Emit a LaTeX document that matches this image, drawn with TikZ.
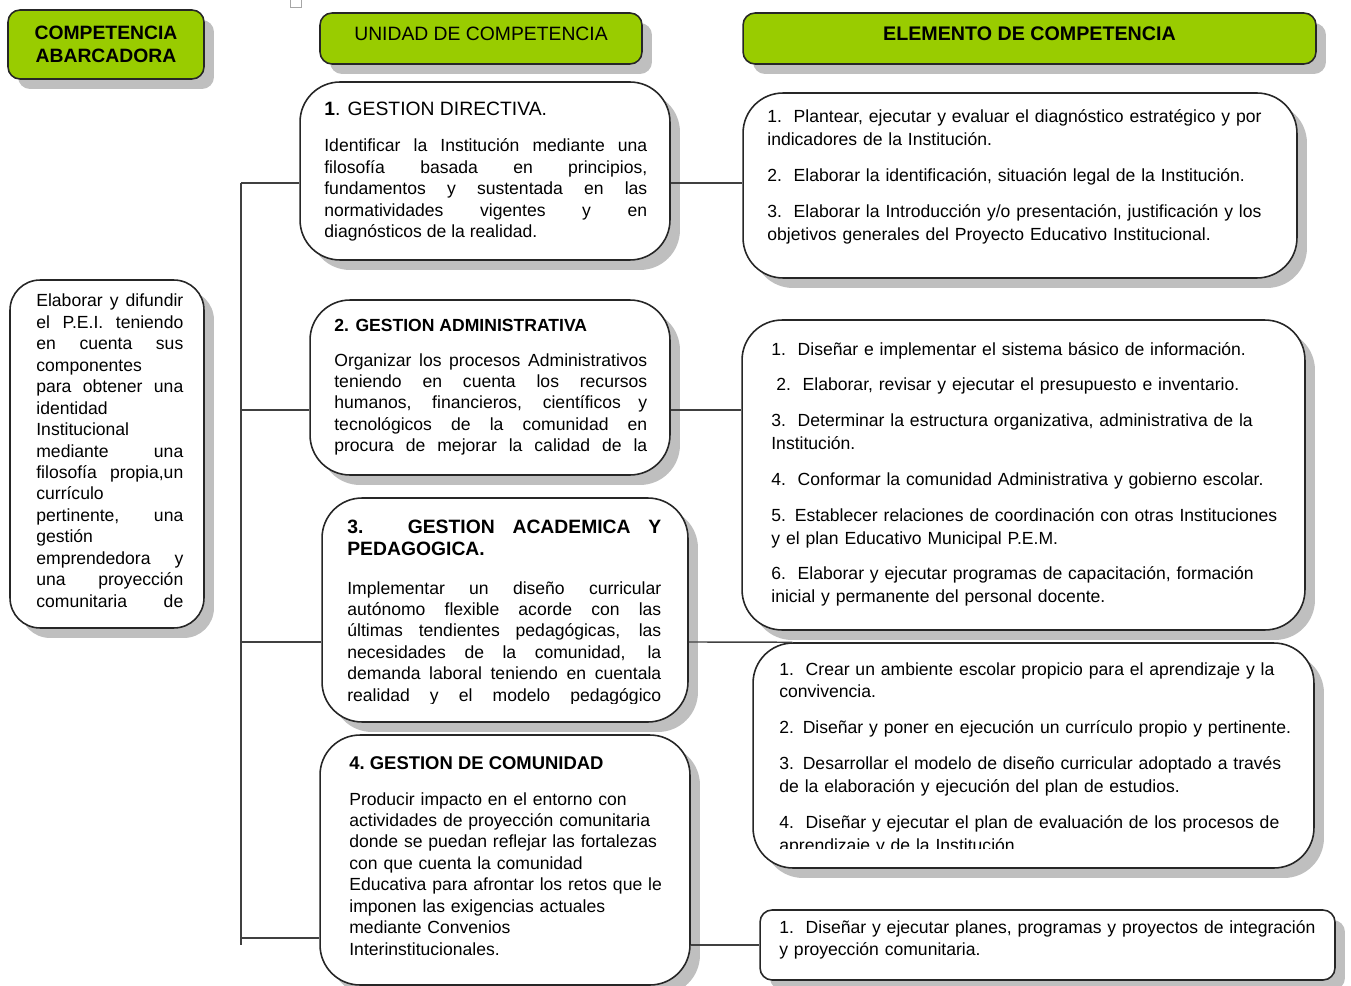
\documentclass[tikz,border=0pt]{standalone}
\usepackage{fontspec}
\setmainfont{Liberation Sans}
\usetikzlibrary{shadows}
\usetikzlibrary{calc}

\definecolor{hdrgreen}{HTML}{99CC00}
\definecolor{linegray}{HTML}{262626}
\tolerance=10000
\hbadness=10000
\hfuzz=20pt
\hyphenpenalty=10000
\exhyphenpenalty=10000

\tikzset{
  boxshadow/.style={drop shadow={shadow xshift=0.2cm, shadow yshift=-0.2cm, fill=black!25, opacity=1}},
  header/.style={draw=linegray, line width=0.9pt, fill=hdrgreen, rounded corners=0.24cm, boxshadow,
    inner sep=0pt, align=center, font=\fontsize{11}{13}\selectfont},
  card/.style={draw=linegray, line width=0.9pt, fill=white, rounded corners=0.8cm, boxshadow, inner sep=0pt},
  txt/.style={anchor=base west, inner sep=0pt, font=\fontsize{10}{12.2}\selectfont},
  just/.style={txt, align=justify},
  items/.style={txt, align=left, text width=10.9cm, font=\fontsize{10}{13}\selectfont},
  conn/.style={draw=black!75, line width=0.8pt},
}

\begin{document}
\begin{tikzpicture}[x=0.02cm, y=-0.02cm]
        \useasboundingbox (0,0) rectangle (1351,986);
        \draw[black!35] (290,-3) rectangle (301,7);

        % Headers
        \node[header, font=\bfseries\fontsize{11}{13}\selectfont, minimum width=3.92cm, minimum height=1.38cm] (habarc) at (106,44.5) {COMPETENCIA\\ABARCADORA};
        \node[header, text depth=0.2cm, minimum width=6.44cm, minimum height=1.02cm] (hunidad) at (481,38.5) {UNIDAD DE COMPETENCIA};
        \node[header, text depth=0.2cm, font=\bfseries\fontsize{11.2}{13}\selectfont, minimum width=11.46cm, minimum height=1.02cm] (helem) at (1029.5,38.5) {ELEMENTO DE COMPETENCIA};

        % Boxes
        \node[card, rounded corners=0.6cm, minimum width=3.88cm, minimum height=6.96cm] (L) at (107,454) {};
        \node[card, minimum width=7.4cm, minimum height=3.56cm] (U1) at (485,171) {};
        \node[card, minimum width=7.2cm, minimum height=3.5cm] (U2) at (490,387.5) {};
        \node[card, minimum width=7.32cm, minimum height=4.48cm] (U3) at (505,610) {};
        \node[card, minimum width=7.4cm, minimum height=5.0cm] (U4) at (505,860) {};
        \node[card, minimum width=11.08cm, minimum height=3.7cm] (E1) at (1020,185.5) {};
        \node[card, minimum width=11.26cm, minimum height=6.2cm] (E2) at (1023.5,475) {};
        \node[card, minimum width=11.22cm, minimum height=4.5cm] (E3) at (1033.5,755.5) {};
        \node[card, rounded corners=0.24cm, minimum width=11.5cm, minimum height=1.4cm] (E4) at (1047.5,945) {};

        % Texts
        \node[just, text width=2.94cm] (ltext) at (36,307) {Elaborar y difundir\linebreak
          el P.E.I. teniendo\linebreak
          en cuenta sus\linebreak
          componentes\linebreak
          para obtener una\linebreak
          identidad\linebreak
          Institucional\linebreak
          mediante una\linebreak
          filosofía propia,un\linebreak
          currículo\linebreak
          pertinente, una\linebreak
          gestión\linebreak
          emprendedora y\linebreak
          una proyección\linebreak
          comunitaria de\linebreak};

        \node[txt, font=\fontsize{11}{13}\selectfont] (u1title) at (324,116) {\textbf{1}. GESTION DIRECTIVA.};
        \node[just, text width=6.46cm] (u1body) at (324,152) {Identificar la Institución mediante una\linebreak
          filosofía basada en principios,\linebreak
          fundamentos y sustentada en las\linebreak
          normatividades vigentes y en\linebreak
          diagnósticos de la realidad.};

        \node[txt, font=\bfseries\fontsize{10}{12.2}\selectfont] (u2title) at (334,331) {2. GESTION ADMINISTRATIVA};
        \node[just, text width=6.26cm] (u2body) at (334,366) {Organizar los procesos Administrativos\linebreak
          teniendo en cuenta los recursos\linebreak
          humanos, financieros, científicos y\linebreak
          tecnológicos de la comunidad en\linebreak
          procura de mejorar la calidad de la\linebreak};

        \node[just, text width=6.28cm, font=\bfseries\fontsize{11}{13}\selectfont] (u3title) at (347,533) {3. GESTION ACADEMICA Y\linebreak
          PEDAGOGICA.};
        \begin{scope}
          \clip (330,560) rectangle (690,703);
          \node[just, text width=6.28cm] (u3body) at (347,594) {Implementar un diseño curricular\linebreak
            autónomo flexible acorde con las\linebreak
            últimas tendientes pedagógicas, las\linebreak
            necesidades de la comunidad, la\linebreak
            demanda laboral teniendo en cuentala\linebreak
            realidad y el modelo pedagógico\linebreak};
        \end{scope}

        \node[txt, font=\bfseries\fontsize{10.5}{12.2}\selectfont] (u4title) at (349,769) {4.\ GESTION DE COMUNIDAD};
        \node[txt, align=left, text width=6.6cm] (u4body) at (349,805) {Producir impacto en el entorno con\\
          actividades de proyección comunitaria\\
          donde se puedan reflejar las fortalezas\\
          con que cuenta la comunidad\\
          Educativa para afrontar los retos que le\\
          imponen las exigencias actuales\\
          mediante Convenios\\
          Interinstitucionales.};

        \node[items] (e1text) at (767,123) {1.\ \ Plantear, ejecutar y evaluar el diagnóstico estratégico y por\\
          indicadores de la Institución.\\[0.26cm]
          2.\ \ Elaborar la identificación, situación legal de la Institución.\\[0.26cm]
          3.\ \ Elaborar la Introducción y/o presentación, justificación y los\\
          objetivos generales del Proyecto Educativo Institucional.};

        \begin{scope}
          \clip (745,322) rectangle (1300,607);
          \node[items] (e2text) at (771,355) {1.\ \ Diseñar e implementar el sistema básico de información.\\[0.26cm]
            \hspace*{0.1cm}2.\ \ Elaborar, revisar y ejecutar el presupuesto e inventario.\\[0.26cm]
            3.\ \ Determinar la estructura organizativa, administrativa de la\\
            Institución.\\[0.26cm]
            4.\ \ Conformar la comunidad Administrativa y gobierno escolar.\\[0.26cm]
            5. Establecer relaciones de coordinación con otras Instituciones\\
            y el plan Educativo Municipal P.E.M.\\[0.26cm]
            6.\ \ Elaborar y ejecutar programas de capacitación, formación\\
            inicial y permanente del personal docente.};
        \end{scope}

        \begin{scope}
          \clip (755,645) rectangle (1310,848);
          \node[items] (e3text) at (779,675) {1.\ \ Crear un ambiente escolar propicio para el aprendizaje y la\\
            convivencia.\\[0.26cm]
            2. Diseñar y poner en ejecución un currículo propio y pertinente.\\[0.26cm]
            3. Desarrollar el modelo de diseño curricular adoptado a través\\
            de la elaboración y ejecución del plan de estudios.\\[0.26cm]
            4.\ \ Diseñar y ejecutar el plan de evaluación de los procesos de\\
            aprendizaje y de la Institución.};
        \end{scope}

        \node[items] (e4text) at (779,933) {1.\ \ Diseñar y ejecutar planes, programas y proyectos de integración\\
          y proyección comunitaria.};

        % Connectors
        \coordinate (top) at (241,183);
        \coordinate (bot) at (241,945);
        \coordinate (j2) at (241,410);
        \coordinate (j3) at (241,642);
        \coordinate (j4) at (241,938);
        \draw[conn] (top) -- (bot);
        \draw[conn] (top) -- (top -| U1.west);
        \draw[conn] (j2) -- (j2 -| U2.west);
        \draw[conn] (j3) -- (j3 -| U3.west);
        \draw[conn] (j4) -- (j4 -| U4.west);
        \draw[conn] (U1.east |- top) -- (E1.west |- top);
        \draw[conn] (U2.east |- j2) -- (E2.west |- j2);
        \draw[conn] (U3.east |- j3) -- ($(E3.north west)+(40,0)$);
        \draw[conn] (U4.east |- E4.west) -- (E4.west);
\end{tikzpicture}
\end{document}
